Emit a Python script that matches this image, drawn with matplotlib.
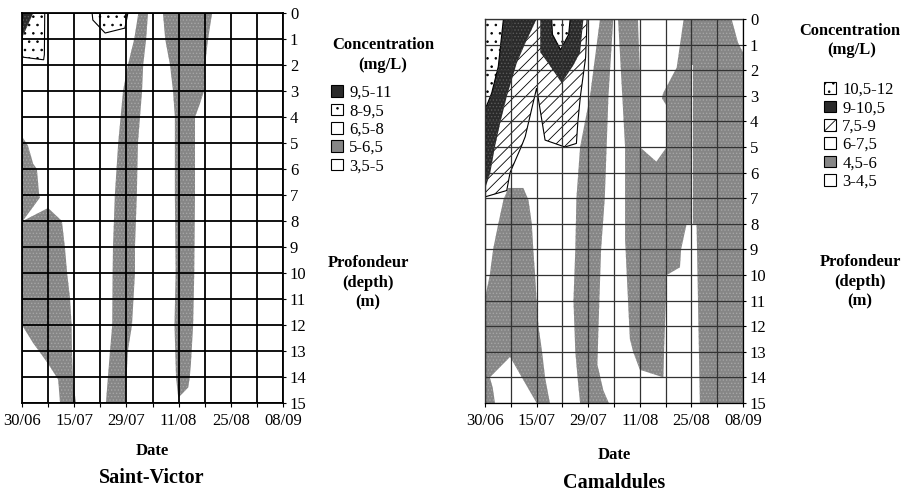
import matplotlib
matplotlib.use("Agg")
import matplotlib.pyplot as plt
from matplotlib.patches import Patch

plt.rcParams['font.family'] = ['Liberation Serif', 'DejaVu Serif']
plt.rcParams['hatch.linewidth'] = 0.6

# x axis: days after 30/06, y axis: depth (m)
grid_days = list(range(0, 71, 7))
date_labels = ["30/06", "", "15/07", "", "29/07", "", "11/08", "", "25/08", "", "08/09"]
depths = list(range(16))

sv_classes = ["9,5-11", "8-9,5", "6,5-8", "5-6,5", "3,5-5"]
cam_classes = ["10,5-12", "9-10,5", "7,5-9", "6-7,5", "4,5-6", "3-4,5"]

# Saint-Victor : isoline regions (day, depth)
sv_dark_days = [0, 3.0, 0.2, 0]
sv_dark_depth = [0, 0, 0.9, 0.9]
sv_dot1_days = [0, 6.1, 6.0, 5.8, 0.3, 0]
sv_dot1_depth = [0, 0, 1.6, 1.8, 1.7, 1.6]
sv_dot2_days = [18.8, 28.4, 27.6, 22.3, 19.0]
sv_dot2_depth = [0, 0, 0.58, 0.77, 0.27]
sv_gray1_days = [31.2, 30.1, 28.4, 27.1, 25.8, 24.9, 24.4, 24.3, 24.2, 23.6, 22.5,
                 27.7, 28.4, 29.5, 30.3, 30.3, 30.8, 31.1, 32.2, 32.5, 33.3, 33.8]
sv_gray1_depth = [0, 1, 2, 3, 5, 7, 9, 10, 12, 13, 15,
                  15, 13, 12, 10, 9, 7, 5, 3, 2, 1, 0]
sv_gray2_days = [37.8, 38.4, 39.7, 40.5, 41.0, 41.0, 41.2, 40.9, 41.3, 41.9,
                 44.6, 45.0, 45.3, 45.9, 46.2, 46.4, 46.4, 47.7, 48.8, 49.1, 49.9, 51.0]
sv_gray2_depth = [0, 1, 2, 3, 4, 7, 10, 12, 14, 14.8,
                  14.4, 14, 13.5, 12, 10, 7, 4, 3.5, 3, 2, 1, 0]
sv_gray3_days = [0, 1.6, 3.0, 4.0, 4.6, 4.8, 0.2, 0]
sv_gray3_depth = [4.75, 5.1, 5.8, 6.0, 7.0, 7.1, 8.0, 8.0]
sv_gray4_days = [0, 0.2, 7.0, 10.7, 11.5, 12.1, 12.9, 13.3, 13.4, 13.7, 14.5,
                 10.2, 9.7, 7.5, 5.3, 3.0, 0]
sv_gray4_depth = [8.0, 8.0, 7.5, 8.0, 9, 10, 11, 12, 13, 14.2, 15,
                  15, 14.1, 13.6, 13.15, 12.7, 12.0]

# Camaldules
cam_dot1_days = [0, 5.0, 3.6, 1.8, 0.4, 0]
cam_dot1_depth = [0, 0, 1.86, 2.9, 3.4, 3.4]
cam_dot2_days = [18.1, 23.1, 22.7, 20.5, 18.3]
cam_dot2_depth = [0, 0, 0.6, 1.2, 0.6]
cam_dark1_days = [0, 14.0, 10.9, 8.6, 5.9, 4.1, 2.7, 1.4, 0.2, 0]
cam_dark1_depth = [0, 0, 0.95, 1.73, 3.03, 4.08, 4.99, 6.03, 6.55, 6.6]
cam_dark2_days = [15.0, 26.7, 25.8, 24.0, 20.8, 17.5, 15.0]
cam_dark2_depth = [0, 0, 1.3, 1.8, 2.5, 1.8, 1.3]
cam_hatch_days = [0, 27.7, 27.3, 25.9, 25.2, 24.8, 21.7, 16.3, 14.0, 10.9, 9.8,
                  6.8, 5.9, 0.2, 0]
cam_hatch_depth = [0, 0, 1.5, 3.0, 4.0, 4.86, 5.0, 4.73, 2.7, 4.6, 5.0,
                   6.0, 6.7, 6.94, 6.94]
cam_gray1_days = [6.3, 10.4, 11.8, 12.7, 13.1, 13.6, 14.0, 14.5, 15.4, 16.3, 17.6,
                  14.0, 6.8, 1.3, 2.1, 2.7, 0, 0, 1.3, 2.2, 3.6, 5.0]
cam_gray1_depth = [6.6, 6.6, 7.07, 8, 9, 10, 11, 12, 12.9, 14, 15,
                   15, 13.2, 14.0, 14.4, 15, 15, 10.9, 10, 9, 8, 7.07]
cam_gray2_days = [31.2, 28.5, 25.8, 24.8, 24.5, 24.0, 24.5, 25.3, 25.8,
                  33.6, 32.1, 30.5, 30.8, 31.5, 32.5, 33.0, 33.5, 34.8]
cam_gray2_depth = [0, 3, 5, 7, 9, 11, 13, 14.3, 15,
                   15, 14.5, 13.5, 12, 9, 7, 5, 3, 0]
cam_gray3_days = [36.1, 66.9, 68.7, 70, 70, 58.3, 57.4, 54.7, 53.2, 52.9, 49.3,
                  48.6, 48.4, 42.0, 40.2, 39.3, 38.0, 38.0]
cam_gray3_depth = [0, 0, 0.95, 1.3, 15, 15, 8.0, 8.0, 9.0, 9.7, 10.0,
                   12.9, 14.0, 13.7, 13.0, 12.5, 8.6, 5.0]
cam_white1_days = [41.5, 53.9, 52.0, 48.3, 48.0, 49.3, 49.3, 46.5, 42.0, 42.0]
cam_white1_depth = [0, 0, 1.9, 2.9, 3.1, 3.4, 5.0, 5.57, 5.0, 2.0]
cam_white2_days = [55.8, 56.3, 56.3, 55.8]
cam_white2_depth = [1.8, 1.8, 8.0, 8.0]

DARK = dict(facecolor='#2a2a2a', edgecolor='#5a5a5a', hatch='.....', lw=0)
DOTS = dict(facecolor='white', edgecolor='black', hatch='..', lw=0.8)
LINES = dict(facecolor='white', edgecolor='black', hatch='///', lw=0.8)
GRAY = dict(facecolor='#868686', edgecolor='#a6a6a6', hatch='.....', lw=0)
WHITE = dict(facecolor='white', edgecolor='none', hatch=None, lw=0)


def region(ax, days, depth, st):
    ax.fill(days, depth, facecolor=st['facecolor'], edgecolor=st['edgecolor'],
            hatch=st['hatch'], linewidth=st['lw'], zorder=1)


def frame(ax, gridw, gridc):
    ax.set_xlim(0, 70)
    ax.set_ylim(15, 0)
    ax.set_xticks(grid_days)
    ax.set_xticklabels(date_labels, fontsize=12)
    ax.set_yticks(depths)
    ax.set_yticklabels([str(d) for d in depths], fontsize=12)
    ax.yaxis.tick_right()
    ax.tick_params(axis='x', length=3, pad=4)
    ax.tick_params(axis='y', length=2.5, pad=2.5)
    ax.grid(True, color=gridc, linewidth=gridw)
    ax.set_axisbelow(False)
    for s in ax.spines.values():
        s.set_linewidth(gridw)


fig = plt.figure(figsize=(9.01, 4.92), dpi=100)
ax1 = fig.add_axes([22 / 901, 1 - 403 / 492, 261 / 901, 390 / 492])
ax2 = fig.add_axes([485 / 901, 1 - 403 / 492, 258 / 901, 384 / 492])

region(ax1, sv_gray1_days, sv_gray1_depth, GRAY)
region(ax1, sv_gray2_days, sv_gray2_depth, GRAY)
region(ax1, sv_gray3_days, sv_gray3_depth, GRAY)
region(ax1, sv_gray4_days, sv_gray4_depth, GRAY)
region(ax1, sv_dot1_days, sv_dot1_depth, DOTS)
region(ax1, sv_dot2_days, sv_dot2_depth, DOTS)
region(ax1, sv_dark_days, sv_dark_depth, DARK)
frame(ax1, 1.3, 'black')

region(ax2, cam_gray1_days, cam_gray1_depth, GRAY)
region(ax2, cam_gray2_days, cam_gray2_depth, GRAY)
region(ax2, cam_gray3_days, cam_gray3_depth, GRAY)
region(ax2, cam_white1_days, cam_white1_depth, WHITE)
region(ax2, cam_white2_days, cam_white2_depth, WHITE)
region(ax2, cam_hatch_days, cam_hatch_depth, LINES)
region(ax2, cam_dark1_days, cam_dark1_depth, DARK)
region(ax2, cam_dark2_days, cam_dark2_depth, DARK)
region(ax2, cam_dot1_days, cam_dot1_depth, DOTS)
region(ax2, cam_dot2_days, cam_dot2_depth, DOTS)
frame(ax2, 0.9, '#333333')


def handle(st):
    h = st['hatch'] if st['facecolor'] == 'white' else None
    return Patch(facecolor=st['facecolor'], edgecolor='black', hatch=h, lw=0.8)


sv_styles = [DARK, DOTS, WHITE, GRAY, WHITE]
cam_styles = [DOTS, DARK, LINES, WHITE, GRAY, WHITE]
leg_kw = dict(loc='upper left', frameon=False, fontsize=12, handlelength=0.7,
              handleheight=0.7, handletextpad=0.4, labelspacing=0.14,
              borderpad=0, borderaxespad=0)
fig.legend([handle(s) for s in sv_styles], sv_classes,
           bbox_to_anchor=(331 / 901, 1 - 85 / 492), **leg_kw)
fig.legend([handle(s) for s in cam_styles], cam_classes,
           bbox_to_anchor=(824 / 901, 1 - 82 / 492), **leg_kw)


def label(x, y, s, size=12):
    fig.text(x / 901, 1 - y / 492, s, ha='center', va='center',
             fontsize=size, fontweight='bold')


label(383, 45, "Concentration")
label(383, 65, "(mg/L)")
label(368, 263, "Profondeur")
label(368, 283, "(depth)")
label(368, 302, "(m)")
label(152, 451, "Date")
label(152, 478, "Saint-Victor", 14.5)

label(850, 31, "Concentration", 11.8)
label(852, 50, "(mg/L)")
label(860, 262, "Profondeur")
label(860, 282, "(depth)")
label(860, 301, "(m)")
label(614, 455, "Date")
label(614, 483, "Camaldules", 14.5)

fig.savefig("out.png", dpi=100)
